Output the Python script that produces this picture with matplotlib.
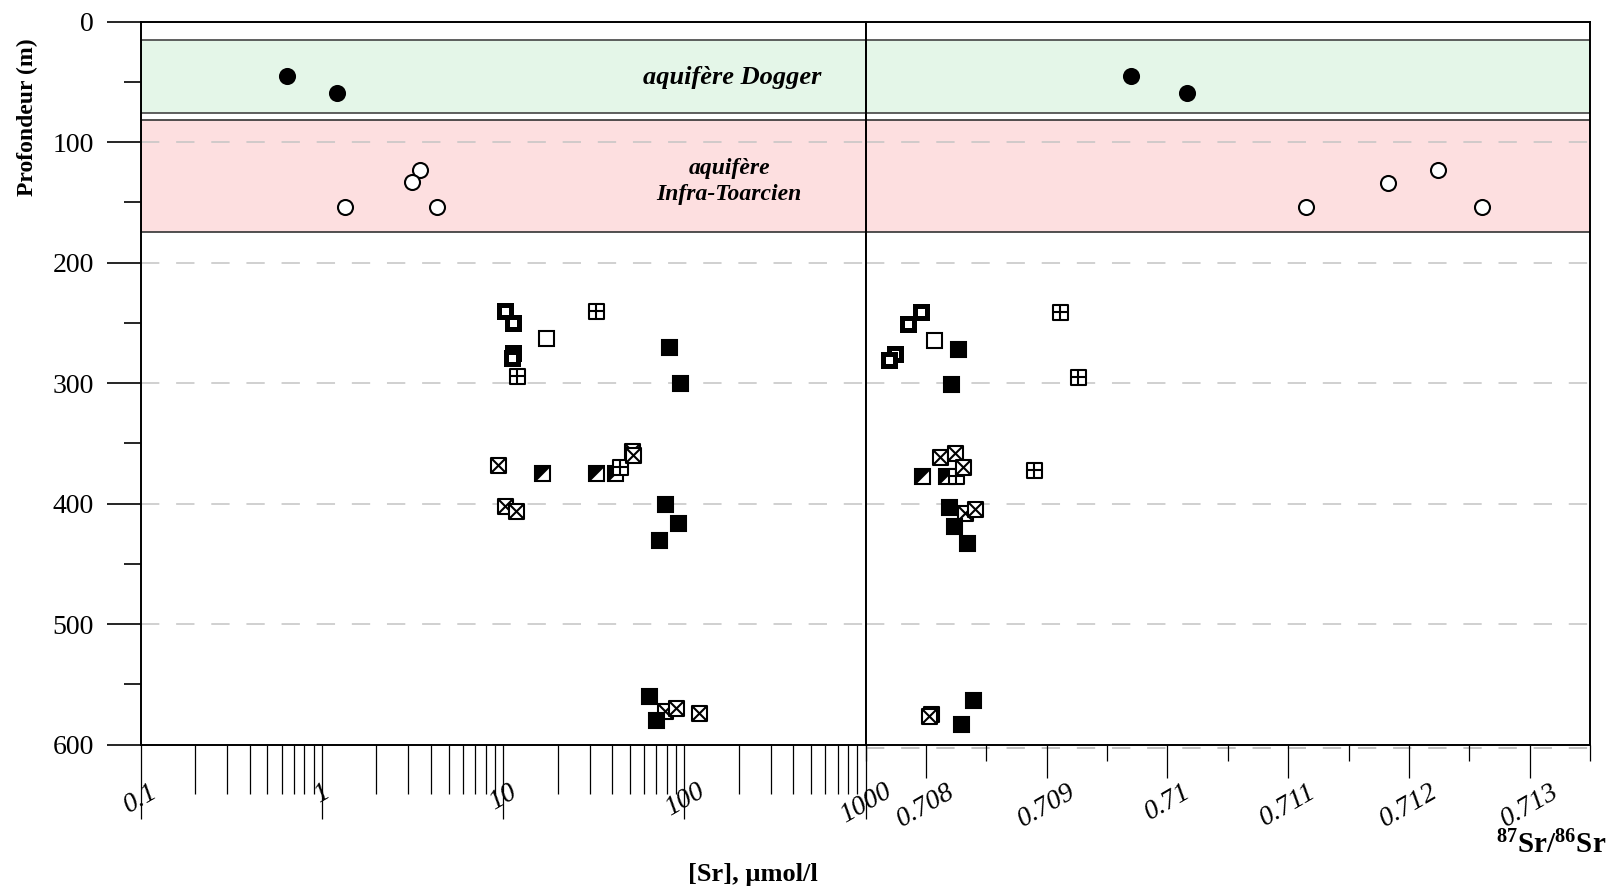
import numpy as np
import matplotlib.pyplot as plt
from matplotlib.path import Path

plt.rcParams['font.family'] = ['Liberation Serif', 'DejaVu Serif']
plt.rcParams['mathtext.fontset'] = 'custom'
plt.rcParams['mathtext.rm'] = 'Liberation Serif'
plt.rcParams['mathtext.bf'] = 'Liberation Serif:bold'

# --- data ---
# aquifere Dogger (filled circles)
dog_sr = [0.645, 1.21]
dog_sr_depth = [45, 59]
dog_ratio = [0.709696, 0.710163]
dog_ratio_depth = [45, 59]

# aquifere Infra-Toarcien (open circles)
toa_sr = [3.47, 3.13, 1.34, 4.29]
toa_sr_depth = [123, 133, 154, 154]
toa_ratio = [0.711147, 0.711825, 0.712241, 0.712606]
toa_ratio_depth = [154, 134, 123, 154]

# thick-bordered squares
bold_sr = [10.3, 11.4, 11.4, 11.2]
bold_sr_depth = [240, 250, 275, 279.5]
bold_ratio = [0.707957, 0.707855, 0.707742, 0.70769]
bold_ratio_depth = [241, 251, 276, 281]

# open squares
open_sr = [17.3]
open_sr_depth = [263]
open_ratio = [0.708068]
open_ratio_depth = [264]

# squares with a cross (+)
grid_sr = [32.6, 11.9, 44.4]
grid_sr_depth = [240, 294, 370]
grid_ratio = [0.709114, 0.709258, 0.708891, 0.708252]
grid_ratio_depth = [241, 295, 372, 377]

# half filled squares
half_sr = [16.3, 32.6, 41.3]
half_sr_depth = [375, 375, 375]
half_ratio = [0.707965, 0.708169]
half_ratio_depth = [377, 377]

# squares with diagonals (x)
cross_sr = [9.4, 51.4, 52.3, 10.3, 11.7, 78.3, 90.4, 120.5]
cross_sr_depth = [368, 356, 360, 402, 406, 572, 570, 574]
cross_ratio = [0.708117, 0.708238, 0.708304, 0.708321, 0.708403, 0.708045, 0.708026]
cross_ratio_depth = [361.6, 357.8, 370, 408, 404.5, 575, 576.5]

# filled squares
fill_sr = [82.6, 94.6, 78.5, 92.3, 72.4, 63.9, 69.8]
fill_sr_depth = [270, 300, 400, 416, 430, 560, 580]
fill_ratio = [0.708266, 0.708205, 0.708188, 0.708233, 0.708343, 0.70839, 0.708293]
fill_ratio_depth = [271.5, 301, 402.6, 418.4, 432.5, 563, 583]

sr_ticks = [0.1, 1, 10, 100, 1000]
sr_labels = ['0.1', '1', '10', '100', '1000']
ratio_ticks = [0.708, 0.709, 0.710, 0.711, 0.712, 0.713]
ratio_labels = ['0.708', '0.709', '0.71', '0.711', '0.712', '0.713']

# --- custom markers ---
sq = [(-1, -1), (1, -1), (1, 1), (-1, 1), (-1, -1)]
sq_codes = [Path.MOVETO, Path.LINETO, Path.LINETO, Path.LINETO, Path.CLOSEPOLY]
grid_marker = Path(sq + [(0, -1), (0, 1), (-1, 0), (1, 0)],
                   sq_codes + [Path.MOVETO, Path.LINETO, Path.MOVETO, Path.LINETO])
cross_marker = Path(sq + [(-1, -1), (1, 1), (-1, 1), (1, -1)],
                    sq_codes + [Path.MOVETO, Path.LINETO, Path.MOVETO, Path.LINETO])
tri_marker = Path([(-1, -1), (-1, 1), (1, 1), (-1, -1)],
                  [Path.MOVETO, Path.LINETO, Path.LINETO, Path.CLOSEPOLY])

MS = 10.8
MEW = 1.5


def draw_points(ax, x, y, kind):
    kw = dict(ls='none', zorder=5)
    if kind == 'dot':
        ax.plot(x, y, marker='o', ms=MS, mfc='black', mec='black', mew=MEW, **kw)
    elif kind == 'circle':
        ax.plot(x, y, marker='o', ms=MS, mfc='white', mec='black', mew=MEW, **kw)
    elif kind == 'bold':
        ax.plot(x, y, marker='s', ms=8.6, mfc='white', mec='black', mew=3.6, **kw)
    elif kind == 'open':
        ax.plot(x, y, marker='s', ms=MS, mfc='white', mec='black', mew=MEW, **kw)
    elif kind == 'grid':
        ax.plot(x, y, marker=grid_marker, ms=MS, mfc='white', mec='black', mew=MEW, **kw)
    elif kind == 'cross':
        ax.plot(x, y, marker=cross_marker, ms=MS, mfc='white', mec='black', mew=MEW, **kw)
    elif kind == 'half':
        ax.plot(x, y, marker='s', ms=MS, mfc='white', mec='black', mew=MEW, **kw)
        ax.plot(x, y, marker=tri_marker, ms=MS, mfc='black', mec='black', mew=0.5, **kw)
    elif kind == 'fill':
        ax.plot(x, y, marker='s', ms=MS, mfc='black', mec='black', mew=MEW, **kw)


fig = plt.figure(figsize=(16.1, 8.91), dpi=100)
W, H = 1610, 891
x0, xm, x1 = 140.7, 865.6, 1590
ytop, ybot = 21.6, 744.5
bottom = 1 - ybot / H
height = (ybot - ytop) / H
ax1 = fig.add_axes([x0 / W, bottom, (xm - x0) / W, height])
ax2 = fig.add_axes([xm / W, bottom, (x1 - xm) / W, height])

for ax in (ax1, ax2):
    ax.set_ylim(600, 0)
    ax.axhspan(15, 76, fc='#e4f6e8', ec='#444444', lw=1.2, zorder=0)
    ax.axhspan(82, 175, fc='#fddfe0', ec='#333333', lw=1.2, zorder=0)
    for yy in range(100, 600, 100):
        ax.axhline(yy, color='#c4c4c4', ls=(0, (12, 11)), lw=1.1, zorder=1)
    for s in ax.spines.values():
        s.set_linewidth(1.4)
        s.set_color('black')

# stray grid line of the right panel just under its axis
ax2.axhline(603, color='#b0b0b0', ls=(0, (12, 11)), lw=1.1, clip_on=False, zorder=1)

# left panel: [Sr]
ax1.set_xscale('log')
ax1.set_xlim(0.1, 1000)
ax1.set_xticks(sr_ticks, sr_labels)
ax1.set_xticks([m * 10.0 ** e for e in range(-1, 3) for m in range(2, 10)], minor=True)
ax1.xaxis.set_minor_formatter(plt.NullFormatter())
ax1.tick_params(axis='x', which='major', direction='out', length=53, width=0.9,
                pad=-28, labelsize=20, labelrotation=30, top=False)
ax1.tick_params(axis='x', which='minor', direction='out', length=35, width=0.9, top=False)
ax1.set_yticks(range(0, 601, 100))
ax1.set_yticks(range(50, 600, 100), minor=True)
ax1.tick_params(axis='y', which='major', direction='out', length=24.5, width=1.2,
                pad=9, labelsize=20, right=False)
ax1.tick_params(axis='y', which='minor', direction='out', length=12, width=1.2, right=False)

# right panel: 87Sr/86Sr
ax2.set_xlim(0.7075, 0.7135)
ax2.set_xticks(ratio_ticks, ratio_labels)
ax2.set_xticks(np.arange(0.7075, 0.71351, 0.0005), minor=True)
ax2.tick_params(axis='x', which='major', direction='out', length=24, width=0.9,
                pad=1, labelsize=20, labelrotation=30, top=False)
ax2.tick_params(axis='x', which='minor', direction='out', length=11.5, width=0.9, top=False)
ax2.set_yticks([])

for ax in (ax1, ax2):
    for lab in ax.get_xticklabels():
        lab.set_fontstyle('italic')
        lab.set_ha('center')

draw_points(ax1, dog_sr, dog_sr_depth, 'dot')
draw_points(ax1, toa_sr, toa_sr_depth, 'circle')
draw_points(ax1, bold_sr, bold_sr_depth, 'bold')
draw_points(ax1, open_sr, open_sr_depth, 'open')
draw_points(ax1, half_sr, half_sr_depth, 'half')
draw_points(ax1, grid_sr, grid_sr_depth, 'grid')
draw_points(ax1, cross_sr, cross_sr_depth, 'cross')
draw_points(ax1, fill_sr, fill_sr_depth, 'fill')

draw_points(ax2, dog_ratio, dog_ratio_depth, 'dot')
draw_points(ax2, toa_ratio, toa_ratio_depth, 'circle')
draw_points(ax2, bold_ratio, bold_ratio_depth, 'bold')
draw_points(ax2, open_ratio, open_ratio_depth, 'open')
draw_points(ax2, half_ratio, half_ratio_depth, 'half')
draw_points(ax2, grid_ratio, grid_ratio_depth, 'grid')
draw_points(ax2, cross_ratio, cross_ratio_depth, 'cross')
draw_points(ax2, fill_ratio, fill_ratio_depth, 'fill')

# aquifer names
ax1.text(0.816, 46, 'aquifère Dogger', transform=ax1.get_yaxis_transform(),
         ha='center', va='center', fontsize=19, fontweight='bold', fontstyle='italic')
ax1.text(0.812, 133, 'aquifère\nInfra-Toarcien', transform=ax1.get_yaxis_transform(),
         ha='center', va='center', fontsize=17, fontweight='bold', fontstyle='italic',
         linespacing=1.3)

fig.text(27 / W, 1 - 117 / H, 'Profondeur (m)', rotation=90, ha='center', va='center',
         fontsize=17, fontweight='bold')
fig.text(753 / W, 1 - 875 / H, '[Sr], µmol/l', ha='center', va='center',
         fontsize=19, fontweight='bold')
fig.text(1606 / W, 1 - 845 / H, r'$\mathbf{^{87}Sr/^{86}Sr}$', ha='right', va='center',
         fontsize=21)

fig.savefig('out.png', dpi=100)
